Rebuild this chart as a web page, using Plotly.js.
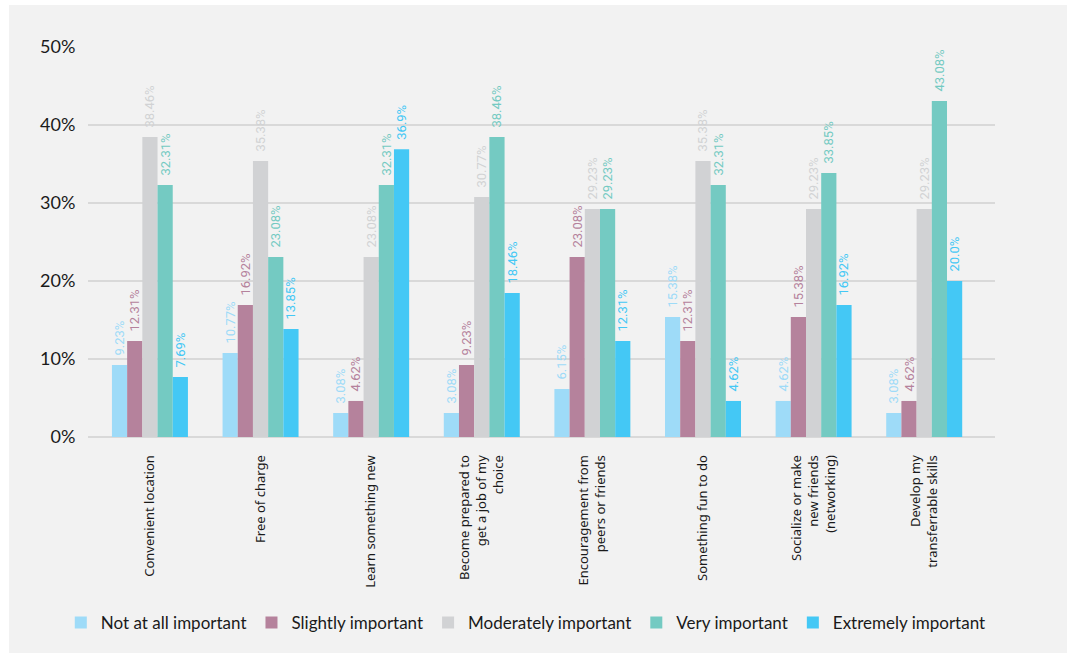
<!DOCTYPE html>
<html>
<head>
<meta charset="utf-8">
<script src="https://cdn.plot.ly/plotly-3.0.1.min.js"></script>
<style>
  html, body { margin: 0; padding: 0; background: #ffffff; width: 1067px; height: 653px; overflow: hidden; }
  #chart { position: absolute; left: 9px; top: 5px; width: 1058px; height: 648px; }
</style>
</head>
<body>
<div id="chart"></div>
<script>
const categories = [
  "Convenient location",
  "Free of charge",
  "Learn something new",
  "Become prepared to<br>get a job of my<br>choice",
  "Encouragement from<br>peers or friends",
  "Something fun to do",
  "Socialize or make<br>new friends<br>(networking)",
  "Develop my<br>transferrable skills"
];
const seriesNames = ["Not at all important", "Slightly important", "Moderately important", "Very important", "Extremely important"];
const notAtAll   = [9.23, 10.77, 3.08, 3.08, 6.15, 15.38, 4.62, 3.08];
const slightly   = [12.31, 16.92, 4.62, 9.23, 23.08, 12.31, 15.38, 4.62];
const moderately = [38.46, 35.38, 23.08, 30.77, 29.23, 35.38, 29.23, 29.23];
const very       = [32.31, 23.08, 32.31, 38.46, 29.23, 32.31, 33.85, 43.08];
const extremely  = [7.69, 13.85, 36.9, 18.46, 12.31, 4.62, 16.92, 20.0];
const yTicks = [0, 10, 20, 30, 40, 50];

const seriesValues = [notAtAll, slightly, moderately, very, extremely];
const colors = ["#9edbf8", "#b5829c", "#d1d2d4", "#74cac2", "#44c8f5"];
const fmt = v => "\u00a0\u00a0" + (Number.isInteger(v) ? v.toFixed(1) : String(v)) + "%";

const traces = seriesValues.map((vals, i) => ({
  type: "bar",
  name: seriesNames[i],
  x: categories,
  y: vals,
  text: vals.map(fmt),
  textposition: "outside",
  textangle: -90,
  constraintext: "none",
  cliponaxis: false,
  textfont: { family: "Roboto, sans-serif", size: 13, color: colors[i] },
  marker: { color: colors[i], line: { width: 0 } },
  hoverinfo: "none"
}));

const layout = {
  width: 1058,
  height: 648,
  paper_bgcolor: "#f2f2f2",
  plot_bgcolor: "#f2f2f2",
  margin: { l: 79, r: 72, t: 42, b: 216, pad: 0, autoexpand: false },
  barmode: "group",
  bargap: 0.313,
  bargroupgap: 0,
  font: { family: "Lato, Noto Sans, sans-serif", color: "#1a1a1a" },
  xaxis: {
    type: "category",
    range: [-0.56, 7.64],
    automargin: false,
    tickangle: -90,
    tickfont: { family: "Noto Sans, Lato, sans-serif", size: 13, color: "#1a1a1a" },
    ticks: "outside",
    ticklen: 12,
    tickcolor: "rgba(0,0,0,0)",
    showgrid: false,
    showline: false,
    zeroline: false
  },
  yaxis: {
    range: [0, 50],
    automargin: false,
    tickvals: yTicks,
    ticktext: yTicks.map(v => v + "%"),
    tickfont: { family: "Lato, sans-serif", size: 18, color: "#1a1a1a" },
    ticks: "outside",
    ticklen: 8,
    tickcolor: "rgba(0,0,0,0)",
    showgrid: true,
    gridcolor: "#d9d9d9",
    gridwidth: 1.5,
    zeroline: true,
    zerolinecolor: "#d9d9d9",
    zerolinewidth: 1.5,
    showline: false
  },
  showlegend: true,
  legend: {
    orientation: "h",
    x: -0.03,
    xanchor: "left",
    y: -0.477,
    yanchor: "middle",
    font: { family: "Lato, sans-serif", size: 17, color: "#1a1a1a" },
    bgcolor: "rgba(0,0,0,0)",
    itemclick: false,
    itemdoubleclick: false,
    traceorder: "normal"
  }
};

Plotly.newPlot("chart", traces, layout, { displayModeBar: false, staticPlot: true });
</script>
</body>
</html>
